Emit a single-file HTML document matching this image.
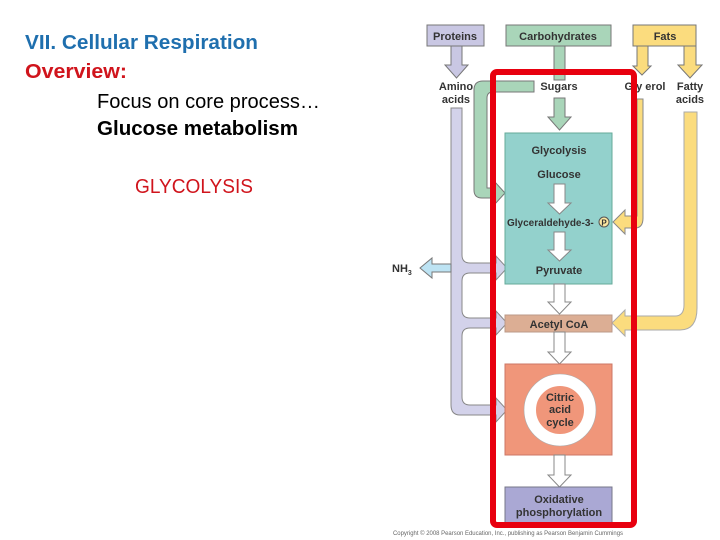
<!DOCTYPE html>
<html><head><meta charset="utf-8"><style>
html,body{margin:0;padding:0;background:#fff;width:720px;height:540px;overflow:hidden}
svg{display:block}
.t{font-family:"Liberation Sans",sans-serif}
.d{font-family:"Liberation Sans",sans-serif;font-weight:bold;font-size:11px;fill:#333;text-anchor:middle}
</style></head><body>
<svg width="720" height="540" viewBox="0 0 720 540">
<!-- left text -->
<text class="t" x="25" y="49" font-size="20" font-weight="bold" fill="#1f6fae" textLength="233" lengthAdjust="spacingAndGlyphs">VII. Cellular Respiration</text>
<text class="t" x="25" y="78" font-size="20" font-weight="bold" fill="#d0141c" textLength="102" lengthAdjust="spacingAndGlyphs">Overview:</text>
<text class="t" x="97" y="108" font-size="20" fill="#000" textLength="223" lengthAdjust="spacingAndGlyphs">Focus on core process…</text>
<text class="t" x="97" y="135" font-size="20" font-weight="bold" fill="#000" textLength="201" lengthAdjust="spacingAndGlyphs">Glucose metabolism</text>
<text class="t" x="135" y="193" font-size="20" fill="#d0141c" textLength="118" lengthAdjust="spacingAndGlyphs">GLYCOLYSIS</text>

<!-- top boxes -->
<rect x="427" y="25" width="57" height="21" fill="#c9c7e3" stroke="#777"/>
<text class="d" x="455" y="40">Proteins</text>
<rect x="506" y="25" width="105" height="21" fill="#a9d5b9" stroke="#777"/>
<text class="d" x="558" y="40">Carbohydrates</text>
<rect x="633" y="25" width="63" height="21" fill="#fbdc7e" stroke="#777"/>
<text class="d" x="665" y="40">Fats</text>

<!-- protein arrow -->
<path d="M451 46 H462 V65 H468 L456.5 78 L445 65 H451 Z" fill="#c9c7e3" stroke="#777"/>
<text class="d" x="456" y="90">Amino</text>
<text class="d" x="456" y="103">acids</text>
<!-- protein bar + branches -->
<path d="M451 108 H462 V255 Q462 263 470 263 H496 V256 L507 268 L496 280 V273 H470 Q462 273 462 281 V310 Q462 318 470 318 H496 V311 L507 323 L496 335 V328 H470 Q462 328 462 336 V397 Q462 405 470 405 H496 V398 L507 410 L496 422 V415 H460 Q451 415 451 405 Z" fill="#d3d2ea" stroke="#888"/>
<!-- NH3 -->
<path d="M451 264 H432 V258 L420 268 L432 278 V272 H451 Z" fill="#bde3f3" stroke="#777"/>
<text class="t" x="392" y="272" font-size="11" font-weight="bold" fill="#333">NH<tspan font-size="7" dy="3">3</tspan></text>

<!-- carb arrow -->
<path d="M554 46 H565 V80 H554 Z" fill="#a9d5b9" stroke="#777"/>
<text class="d" x="559" y="90">Sugars</text>
<path d="M534 81 H483 Q474 81 474 90 V190 Q474 198 482 198 H495 V204 L505 193 L495 182 V188 H487 V98 Q487 92 493 92 H534 Z" fill="#a9d5b9" stroke="#777"/>
<path d="M554 98 H565 V117 H571 L559.5 130 L548 117 H554 Z" fill="#a9d5b9" stroke="#777"/>

<!-- fats arrows -->
<path d="M637 46 H648 V66 H651 L642 75 L633 66 H637 Z" fill="#fbdc7e" stroke="#777"/>
<text class="d" x="645" y="90">Gly erol</text>
<path d="M637 99 H643 V218 Q643 228 635 228 H625 V234 L613 222 L625 210 V216 H637 Z" fill="#fbdc7e" stroke="#888"/>
<path d="M684 46 H696 V65 H702 L690 78 L678 65 H684 Z" fill="#fbdc7e" stroke="#777"/>
<text class="d" x="690" y="90">Fatty</text>
<text class="d" x="690" y="103">acids</text>
<path d="M684 112 H697 V308 Q697 330 680 330 H625 V336 L612 323 L625 310 V316 H675 Q684 316 684 305 Z" fill="#fbdc7e" stroke="#aaa"/>

<!-- glycolysis box -->
<rect x="505" y="133" width="107" height="151" fill="#93d1cc" stroke="#6a9"/>
<text class="d" x="559" y="154">Glycolysis</text>
<text class="d" x="559" y="178">Glucose</text>
<path d="M554 184 H565 V203 H571 L559.5 214 L548 203 H554 Z" fill="#fff" stroke="#888"/>
<text class="t" x="507" y="226" font-size="10" font-weight="bold" fill="#333">Glyceraldehyde-3-</text>
<circle cx="604" cy="222" r="5" fill="#fbe6a0" stroke="#555"/>
<text class="t" x="604" y="225.5" font-size="8" font-weight="bold" fill="#333" text-anchor="middle">P</text>
<path d="M554 232 H565 V250 H571 L559.5 261 L548 250 H554 Z" fill="#fff" stroke="#888"/>
<text class="d" x="559" y="274">Pyruvate</text>
<path d="M554 284 H565 V302 H571 L559.5 314 L548 302 H554 Z" fill="#fff" stroke="#888"/>

<rect x="505" y="315" width="107" height="17" fill="#dcae94" stroke="#b98"/>
<text class="d" x="559" y="328">Acetyl CoA</text>
<path d="M554 332 H565 V352 H571 L559.5 364 L548 352 H554 Z" fill="#fff" stroke="#888"/>

<rect x="505" y="364" width="107" height="91" fill="#f0967a" stroke="#c76"/>
<circle cx="560" cy="410" r="30" fill="none" stroke="#fff" stroke-width="12"/>
<circle cx="560" cy="410" r="36" fill="none" stroke="#aaa" stroke-width="0.6"/>
<text class="d" x="560" y="401">Citric</text>
<text class="d" x="560" y="413">acid</text>
<text class="d" x="560" y="426">cycle</text>
<path d="M554 455 H565 V475 H571 L559.5 487 L548 475 H554 Z" fill="#fff" stroke="#888"/>

<rect x="505" y="487" width="107" height="40" fill="#aaa8d4" stroke="#778"/>
<text class="d" x="559" y="503">Oxidative</text>
<text class="d" x="559" y="516">phosphorylation</text>

<!-- red frame -->
<rect x="493" y="72" width="141" height="453" rx="4" fill="none" stroke="#e8000f" stroke-width="6"/>

<text class="t" x="393" y="535" font-size="6" fill="#666" textLength="230" lengthAdjust="spacingAndGlyphs">Copyright © 2008 Pearson Education, Inc., publishing as Pearson Benjamin Cummings</text>
</svg>
</body></html>
